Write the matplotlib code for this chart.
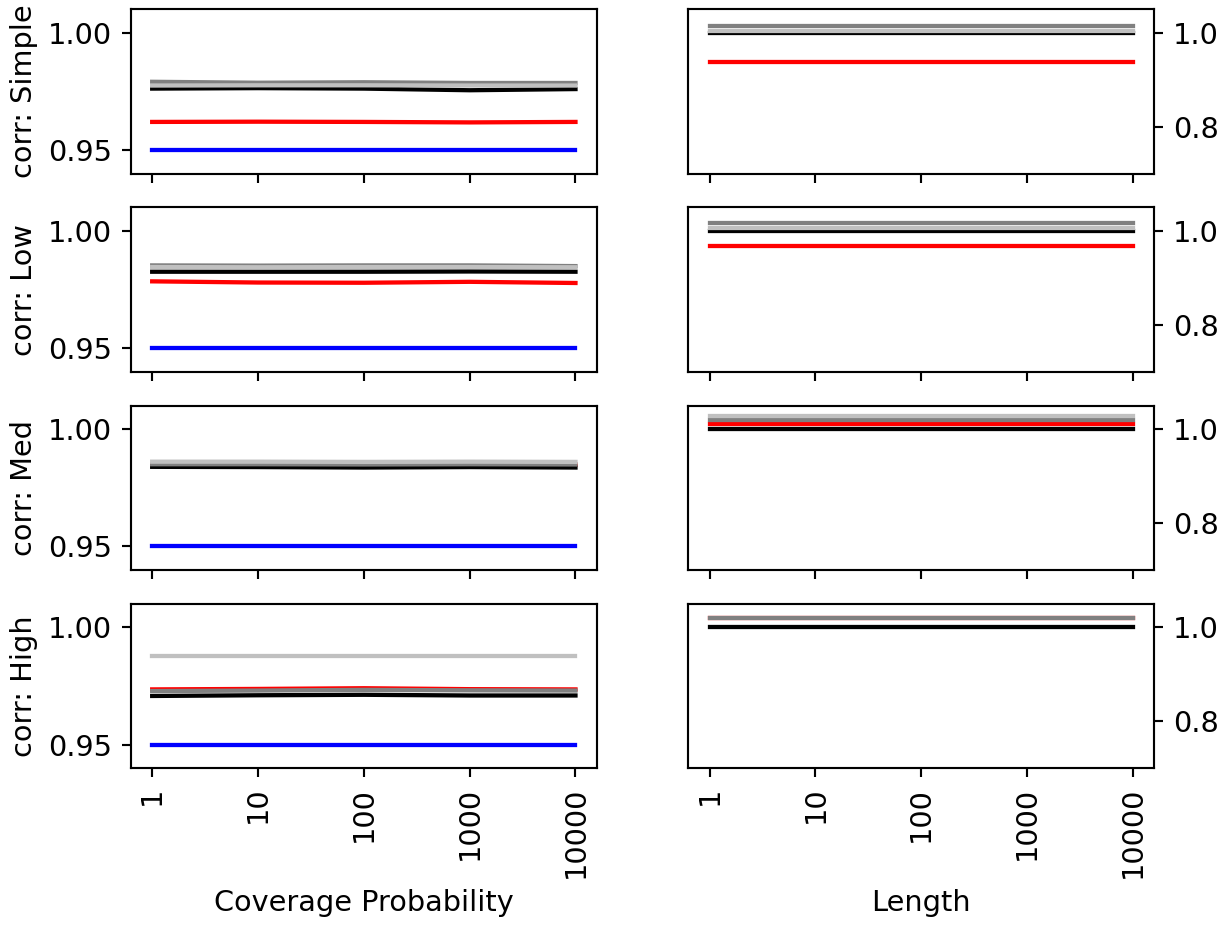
import numpy as np
import matplotlib
matplotlib.use('Agg')
import matplotlib.pyplot as plt

plt.rcParams['font.size'] = 10.8
plt.rcParams['lines.linewidth'] = 1.6

# x categories (number of ... )
ticks = ['1', '10', '100', '1000', '10000']
rows = ['Simple', 'Low', 'Med', 'High']

# coverage probability per row: blue, red, black, gray, silver
cov_blue = [
    [0.95, 0.95, 0.95, 0.95, 0.95],
    [0.95, 0.95, 0.95, 0.95, 0.95],
    [0.95, 0.95, 0.95, 0.95, 0.95],
    [0.95, 0.95, 0.95, 0.95, 0.95],
]
cov_red = [
    [0.9620, 0.9621, 0.9620, 0.9618, 0.9620],
    [0.9785, 0.9780, 0.9779, 0.9783, 0.9778],
    [0.9850, 0.9849, 0.9848, 0.9849, 0.9848],
    [0.9735, 0.9737, 0.9740, 0.9736, 0.9735],
]
cov_black = [
    [0.9762, 0.9764, 0.9762, 0.9755, 0.9760],
    [0.9826, 0.9826, 0.9826, 0.9827, 0.9826],
    [0.9839, 0.9838, 0.9836, 0.9838, 0.9836],
    [0.9707, 0.9710, 0.9712, 0.9709, 0.9709],
]
cov_gray = [
    [0.9791, 0.9787, 0.9789, 0.9786, 0.9786],
    [0.9853, 0.9852, 0.9853, 0.9853, 0.9850],
    [0.9850, 0.9850, 0.9849, 0.9850, 0.9849],
    [0.9728, 0.9730, 0.9733, 0.9731, 0.9730],
]
cov_silver = [
    [0.9775, 0.9776, 0.9776, 0.9775, 0.9775],
    [0.9846, 0.9845, 0.9846, 0.9846, 0.9845],
    [0.9861, 0.9861, 0.9860, 0.9861, 0.9860],
    [0.9878, 0.9878, 0.9878, 0.9878, 0.9878],
]

# relative length per row: red, black, gray, silver
len_red = [0.9375, 0.967, 1.011, 1.019]
len_black = [1.000, 1.000, 1.000, 1.000]
len_gray = [1.015, 1.016, 1.019, 1.0196]
len_silver = [1.003, 1.006, 1.027, None]

fig, axes = plt.subplots(4, 2, figsize=(1229 / 192, 926 / 192), dpi=192, sharex=True)
fig.subplots_adjust(left=0.1066, right=0.939, top=0.990, bottom=0.1706,
                    wspace=0.197, hspace=0.206)
x = np.arange(len(ticks))

for i, name in enumerate(rows):
    ax = axes[i, 0]
    ax.plot(x, cov_blue[i], color='blue')
    ax.plot(x, cov_red[i], color='red')
    ax.plot(x, cov_black[i], color='black')
    ax.plot(x, cov_gray[i], color='gray')
    ax.plot(x, cov_silver[i], color='silver')
    ax.set_ylim(0.94, 1.01)
    ax.set_yticks([0.95, 1.00])
    ax.set_ylabel(f'corr: {name}')

    ax = axes[i, 1]
    ax.plot(x, [len_red[i]] * len(x), color='red')
    ax.plot(x, [len_black[i]] * len(x), color='black')
    ax.plot(x, [len_gray[i]] * len(x), color='gray')
    if len_silver[i] is not None:
        ax.plot(x, [len_silver[i]] * len(x), color='silver')
    ax.set_ylim(0.7, 1.05)
    ax.set_yticks([0.8, 1.0])
    ax.yaxis.tick_right()

for ax in axes[-1]:
    ax.set_xticks(x)
    ax.set_xticklabels(ticks, rotation=90)

axes[-1, 0].set_xlabel('Coverage Probability')
axes[-1, 1].set_xlabel('Length')

plt.savefig('out.png', dpi=192)
